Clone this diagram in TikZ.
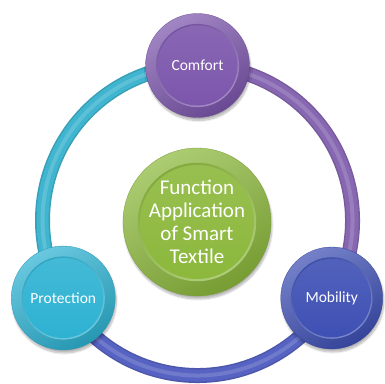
\documentclass[tikz,border=0pt]{standalone}
\usepackage{fontspec}
\setmainfont{Carlito}
\usetikzlibrary{shadows.blur}

\definecolor{comfortcol}{RGB}{124,86,172}
\definecolor{protectcol}{RGB}{46,178,210}
\definecolor{mobilitycol}{RGB}{62,80,180}
\definecolor{corecol}{RGB}{140,184,60}
\definecolor{ringleft}{RGB}{64,181,207}
\definecolor{ringright}{RGB}{135,103,178}
\definecolor{ringbottom}{RGB}{86,99,194}

\tikzset{
  bubble/.style n args={2}{
    circle, inner sep=0pt, minimum size=2*#2,
    top color=#1!72!white, bottom color=#1!85!black, shading angle=30,
    draw=#1!85!black, line width=0.3pt,
    text=white, align=center,
    blur shadow={shadow xshift=1pt, shadow yshift=-3pt,
                 shadow blur steps=8, shadow opacity=30},
    path picture={
      \shade[top color=#1!90!black, bottom color=#1!65!white, shading angle=30]
        (path picture bounding box.center) circle[radius=0.80*#2];
      \shade[top color=#1!90!white, bottom color=#1]
        (path picture bounding box.center) circle[radius=0.77*#2];
    }
  },
  smalltext/.style={font=\fontsize{15.5}{18}\selectfont},
  bigtext/.style={font=\fontsize{21}{23}\selectfont},
  ringpart/.style={line width=15pt, draw=#1!88!black},
  ringface/.style={line width=12pt, draw=#1},
  ringshine/.style={line width=4pt, draw=#1!85!white}
}

\begin{document}
\begin{tikzpicture}[x=1pt,y=1pt]
  \useasboundingbox (0,0) rectangle (385,383);

  % hub position and satellite anchors on the ring
  \coordinate (hub) at (197.5,162.5);
  \path (hub) ++(90:155) coordinate (ptop)
        (hub) ++(210:155) coordinate (pleft)
        (hub) ++(330:155) coordinate (pright);

  % the ring, one arc per segment
  \foreach \col/\a/\b/\p in {ringleft/90/210/ptop, ringbottom/210/330/pleft, ringright/-30/90/pright}{
    \draw[ringpart=\col] (\p) arc[start angle=\a, end angle=\b, radius=155];
    \draw[ringface=\col] (\p) arc[start angle=\a, end angle=\b, radius=155];
    \draw[ringshine=\col] (\p) arc[start angle=\a, end angle=\b, radius=155];
  }

  % satellites
  \node[bubble={comfortcol}{52pt}, smalltext] (comfort) at (ptop) {Comfort};
  \node[bubble={protectcol}{52pt}, smalltext] (protection) at (pleft) {Protection};
  \node[bubble={mobilitycol}{51pt}, smalltext] (mobility) at (pright) {Mobility};

  % centre
  \node[bubble={corecol}{74pt}, bigtext] (core) at (197,161) {Function\\Application\\of Smart\\Textile};
\end{tikzpicture}
\end{document}
